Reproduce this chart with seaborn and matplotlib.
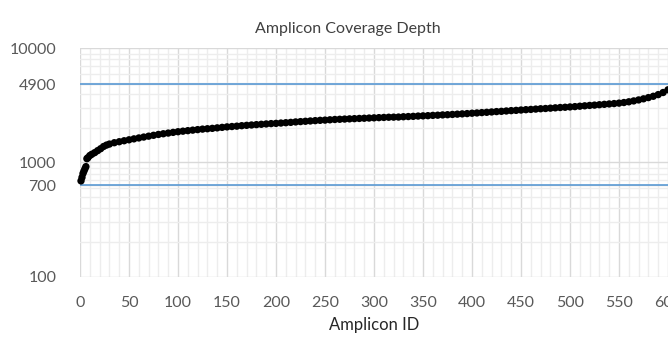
import matplotlib
matplotlib.use('Agg')
import matplotlib.pyplot as plt
import matplotlib.ticker as mticker
import seaborn as sns
import pandas as pd

# Amplicon IDs and their (sorted) coverage depth
amplicon_ids = [1, 2, 3, 4, 5, 6, 7, 8, 10, 12, 15, 18, 21, 24, 27, 30] + list(range(35, 601, 5))
coverage = [690, 740, 800, 840, 880, 920, 1080, 1100, 1150, 1180, 1220, 1270, 1320, 1380, 1420, 1450,
            1490, 1520, 1550, 1580, 1610, 1640, 1670, 1700, 1730, 1760,
            1785, 1810, 1835, 1860, 1880, 1900, 1920, 1940, 1960, 1975,
            1990, 2010, 2030, 2050, 2065, 2080, 2100, 2115, 2130, 2145,
            2160, 2175, 2190, 2200, 2215, 2230, 2245, 2265, 2280, 2295,
            2310, 2325, 2340, 2350, 2365, 2380, 2390, 2400, 2410, 2420,
            2430, 2440, 2450, 2460, 2470, 2480, 2490, 2495, 2500, 2515,
            2525, 2535, 2550, 2560, 2570, 2585, 2595, 2610, 2620, 2635,
            2650, 2665, 2680, 2700, 2715, 2735, 2750, 2770, 2790, 2805,
            2825, 2845, 2860, 2880, 2900, 2915, 2935, 2955, 2970, 2990,
            3010, 3030, 3045, 3065, 3085, 3110, 3135, 3160, 3180, 3205,
            3230, 3255, 3280, 3310, 3350, 3400, 3460, 3530, 3610, 3700,
            3800, 3930, 4100, 4330]

# threshold lines (drawn where they sit in the picture) and their labels
threshold_values = [630, 4850]
threshold_labels = ['700', '4900']
decade_ticks = [100, 1000, 10000]
decade_labels = ['100', '1000', '10000']

df = pd.DataFrame({'Amplicon ID': amplicon_ids, 'Depth': coverage})

sns.set_style('white')
plt.rcParams['font.family'] = ['Lato', 'DejaVu Sans']

fig = plt.figure(figsize=(6.68, 3.41), dpi=100)
ax = fig.add_axes([0.1198, 0.1886, 0.8802, 0.6698])

ax.set_yscale('log')
ax.set_xlim(0, 600)
ax.set_ylim(100, 10000)

# grid
ax.xaxis.set_major_locator(mticker.MultipleLocator(50))
ax.xaxis.set_minor_locator(mticker.MultipleLocator(10))
ax.yaxis.set_minor_locator(mticker.LogLocator(base=10, subs=range(2, 10)))
ax.yaxis.set_minor_formatter(mticker.NullFormatter())
ax.set_yticks(decade_ticks + threshold_values)
ax.set_yticklabels(decade_labels + threshold_labels)
ax.grid(which='major', color='#d9d9d9', linewidth=1.0)
ax.grid(which='minor', color='#ededed', linewidth=1.0)
ax.set_axisbelow(True)

for y in threshold_values:
    ax.axhline(y, color='#5b9bd5', linewidth=1.2, zorder=2)

sns.scatterplot(data=df, x='Amplicon ID', y='Depth', ax=ax, color='black',
                s=28, edgecolor='none', zorder=3, clip_on=False)

for s in ax.spines.values():
    s.set_visible(False)
ax.tick_params(which='both', length=0)
ax.tick_params(axis='y', pad=17, labelsize=11.5, labelcolor='#595959')
ax.tick_params(axis='x', pad=14, labelsize=11.5, labelcolor='#595959')

ax.set_ylabel('')
ax.set_xlabel('Amplicon ID', fontsize=12, color='#262626', labelpad=5)
fig.suptitle('Amplicon Coverage Depth', x=0.521, y=0.935, fontsize=11.5, color='#404040')

fig.savefig('out.png', dpi=100)
